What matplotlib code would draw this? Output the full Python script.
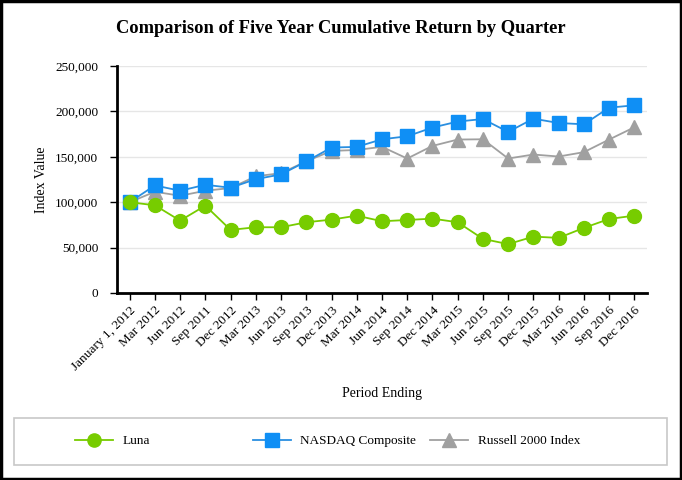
import matplotlib
matplotlib.use("Agg")
import matplotlib.pyplot as plt
from matplotlib.ticker import FuncFormatter, MultipleLocator
from matplotlib.patches import Rectangle

plt.rcParams['font.family'] = ['Liberation Serif', 'DejaVu Serif']

# quarter labels, as printed on the chart
periods = ["January 1, 2012", "Mar 2012", "Jun 2012", "Sep 2011", "Dec 2012",
           "Mar 2013", "Jun 2013", "Sep 2013", "Dec 2013", "Mar 2014",
           "Jun 2014", "Sep 2014", "Dec 2014", "Mar 2015", "Jun 2015",
           "Sep 2015", "Dec 2015", "Mar 2016", "Jun 2016", "Sep 2016",
           "Dec 2016"]

luna = [100000, 96600, 79700, 96200, 69500, 72400, 72400, 77900, 80800,
        85200, 79000, 80400, 81900, 77900, 59600, 53800, 62100, 60700,
        71700, 81500, 85200]
nasdaq = [100000, 118500, 112600, 119200, 115900, 125400, 130600, 144900,
          160200, 160900, 169300, 172600, 182200, 188800, 191600, 177400,
          192000, 187200, 185800, 204100, 206700]
russell = [100000, 111500, 107100, 112600, 115600, 128500, 132000, 145000,
           156500, 157500, 161000, 148100, 162000, 169000, 169300, 148100,
           152500, 150300, 155100, 169000, 182500]

green = "#77cc00"
blue = "#0f8ff5"
grey = "#a0a0a0"

fig = plt.figure(figsize=(6.82, 4.8), dpi=100)
ax = fig.add_axes([0.1716, 0.3896, 0.777, 0.4729])

x = list(range(len(periods)))
l_rus, = ax.plot(x, russell, color=grey, lw=1.3, marker="^", ms=10, mfc=grey, mec=grey,
                 zorder=3)
l_nas, = ax.plot(x, nasdaq, color="#2a8fe0", lw=1.3, marker="s", ms=10, mfc=blue, mec=blue,
                 zorder=4)
l_luna, = ax.plot(x, luna, color=green, lw=1.3, marker="o", ms=10, mfc=green, mec=green,
                  zorder=5)

ax.set_xlim(-0.5, len(periods) - 0.5)
ax.set_ylim(0, 250000)
ax.yaxis.set_major_locator(MultipleLocator(50000))
ax.yaxis.set_major_formatter(FuncFormatter(lambda v, p: f"{int(v):,}"))
ax.grid(axis="y", color="#e6e6e6", lw=1)
ax.set_axisbelow(True)
ax.set_xticks(x)
ax.set_xticklabels(periods, rotation=45, ha="right", rotation_mode="anchor")
ax.tick_params(axis="both", labelsize=9.5, color="black", width=1, length=5)
ax.tick_params(axis="x", pad=3)
ax.tick_params(axis="y", pad=8.5)
for s in ["top", "right"]:
    ax.spines[s].set_visible(False)
for s in ["left", "bottom"]:
    ax.spines[s].set_linewidth(2)
ax.set_ylabel("Index Value", fontsize=10, labelpad=5)
ax.set_xlabel("Period Ending", fontsize=10, labelpad=10)

fig.text(0.5, 0.94, "Comparison of Five Year Cumulative Return by Quarter",
         ha="center", va="center", fontsize=13.3, fontweight="bold")

# legend box with three entries at fixed spots
fig.patches.append(Rectangle((14 / 682, 1 - 465 / 480), 653 / 682, 47 / 480,
                             transform=fig.transFigure, fill=False,
                             edgecolor="#c8c8c8", lw=1.2))
for line, name, xs in [(l_luna, "Luna", 75), (l_nas, "NASDAQ Composite", 253),
                       (l_rus, "Russell 2000 Index", 430)]:
    fig.legend([line], [name], loc="center left",
               bbox_to_anchor=(xs / 682, 1 - 441 / 480), frameon=False,
               fontsize=9.5, handlelength=2.9, handletextpad=0.7,
               borderpad=0, borderaxespad=0, markerscale=0.95)

fig.patches.append(Rectangle((0.002, 0.003), 0.996, 0.994, transform=fig.transFigure,
                             fill=False, edgecolor="black", lw=2.5))

fig.savefig("out.png", dpi=100)
